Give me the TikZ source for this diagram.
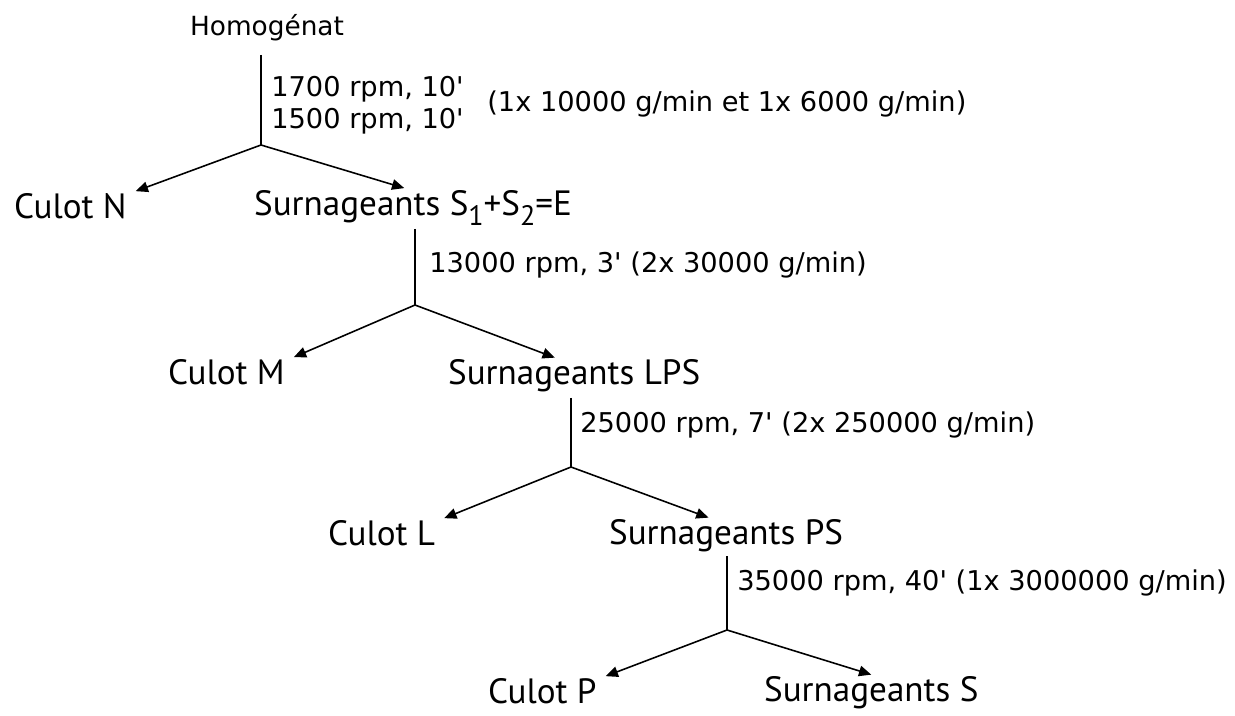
\documentclass[tikz,border=0pt]{standalone}
\usepackage{fontspec}
\setmainfont{PT Sans}
\newfontfamily\runfont{DejaVu Sans}
\usetikzlibrary{arrows.meta}

\newcommand{\idx}[1]{\raisebox{-6pt}{\fontsize{16}{17}\selectfont #1}}

\tikzset{
  fraction/.style={inner sep=1pt, anchor=west, font=\fontsize{20}{22}\selectfont},
  run/.style={inner sep=0pt, anchor=west, align=left, font=\runfont\fontsize{15.5}{18.5}\selectfont},
  split/.style={-{Triangle[length=7pt,width=6pt]}, line width=0.9pt}
}

\begin{document}
\begin{tikzpicture}[x=0.02cm, y=-0.02cm]
    \useasboundingbox (0,0) rectangle (1235,716);
    % fractions
    \node[font=\runfont\fontsize{15}{17}\selectfont, inner sep=1pt] (homog) at (267,28) {Homogénat};
    \node[fraction] (culotN) at (12,206) {Culot N};
    \node[fraction] (surnE) at (252,208) {Surnageants S\idx{1}+S\idx{2}=E};
    \node[fraction] (culotM) at (166,372) {Culot M};
    \node[fraction] (surnLPS) at (446,376) {Surnageants LPS};
    \node[fraction] (culotL) at (326,533) {Culot L};
    \node[fraction] (surnPS) at (607,536) {Surnageants PS};
    \node[fraction] (culotP) at (486,691) {Culot P};
    \node[fraction] (surnS) at (762,693) {Surnageants S};
    % junctions
    \coordinate (j1) at (261,145);
    \coordinate (j2) at (415,305);
    \coordinate (j3) at (571,467);
    \coordinate (j4) at (727,630);
    % centrifugation runs
    \node[run] (run1) at (271,105) {1700 rpm, 10\textquotesingle\\1500 rpm, 10\textquotesingle};
    \node[run] (g1) at (487,104) {(1x 10000 g/min et 1x 6000 g/min)};
    \node[run] (run2) at (429,265) {13000 rpm, 3\textquotesingle{} (2x 30000 g/min)};
    \node[run] (run3) at (580,425) {25000 rpm, 7\textquotesingle{} (2x 250000 g/min)};
    \node[run] (run4) at (737,583) {35000 rpm, 40\textquotesingle{} (1x 3000000 g/min)};
    % tree
    \draw[line width=0.9pt] (j1 |- 0,55) -- (j1);
    \draw[split] (j1) -- ([xshift=4pt]culotN.north east);
    \draw[split] (j1) -- ([xshift=-5pt]surnE.north);
    \draw[line width=0.9pt] (j2 |- 0,229) -- (j2);
    \draw[split] (j2) -- ([xshift=4pt]culotM.north east);
    \draw[split] (j2) -- ([xshift=-11pt]surnLPS.north);
    \draw[line width=0.9pt] (j3 |- 0,398) -- (j3);
    \draw[split] (j3) -- ([xshift=4pt]culotL.north east);
    \draw[split] (j3) -- ([xshift=-10pt]surnPS.north);
    \draw[line width=0.9pt] (j4 |- 0,556) -- (j4);
    \draw[split] (j4) -- ([xshift=4pt]culotP.north east);
    \draw[split] (j4) -- (surnS.north);
\end{tikzpicture}
\end{document}
